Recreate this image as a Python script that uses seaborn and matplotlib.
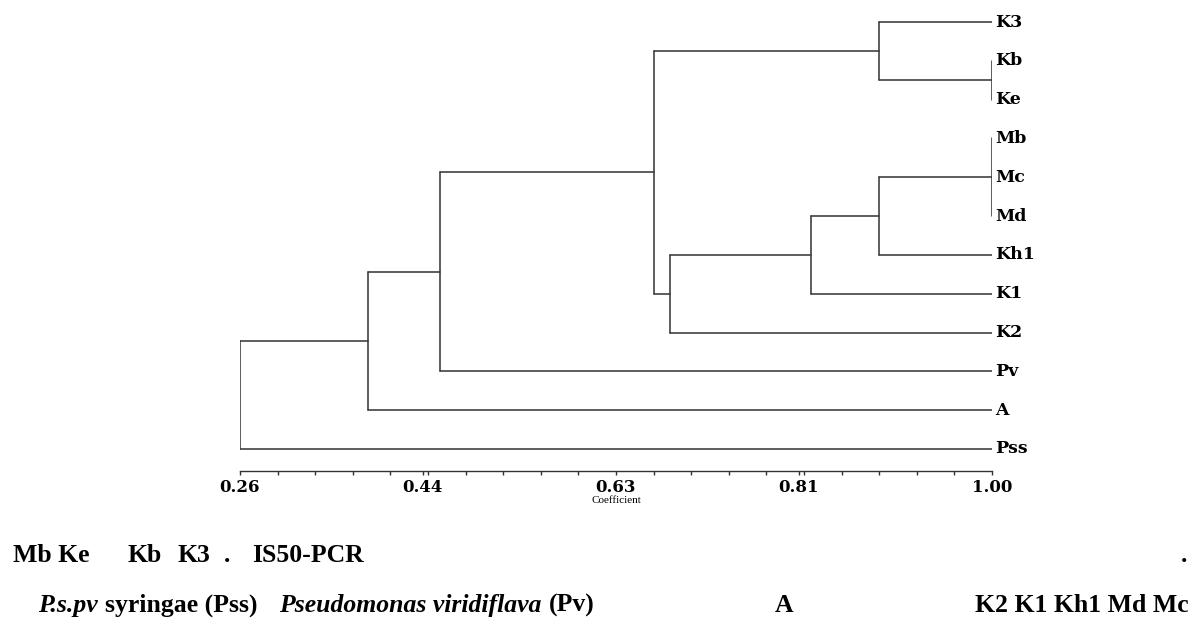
import numpy as np
import pandas as pd
import matplotlib
matplotlib.use('Agg')
import matplotlib.pyplot as plt
import seaborn as sns

# leaves, top to bottom
leaves = ['K3', 'Kb', 'Ke', 'Mb', 'Mc', 'Md', 'Kh1', 'K1', 'K2', 'Pv', 'A', 'Pss']

# clusters (name, members, similarity coefficient at join)
cluster_names = ['KbKe', 'M', 'K3grp', 'MKh1', 'MK1', 'MK2', 'Kgrp', 'Pvgrp', 'Agrp', 'root']
cluster_members = [['Kb', 'Ke'], ['Mb', 'Mc', 'Md'], ['K3', 'KbKe'], ['M', 'Kh1'],
                   ['MKh1', 'K1'], ['MK1', 'K2'], ['K3grp', 'MK2'], ['Kgrp', 'Pv'],
                   ['Pvgrp', 'A'], ['Agrp', 'Pss']]
cluster_sim = [1.00, 1.00, 0.889, 0.889, 0.822, 0.683, 0.667, 0.457, 0.386, 0.26]

tick_values = [0.26, 0.44, 0.63, 0.81, 1.00]
tick_labels = ['0.26', '0.44', '0.63', '0.81', '1.00']

# caption under the chart
caption1 = [('Mb Ke', 13), ('Kb', 127), ('K3', 178), ('.', 224), ('IS50-PCR', 252), ('.', 1181)]
caption2_chain = [('P.s.pv', 'italic', 7), ('syringae (Pss)', 'normal', 22),
                  ('Pseudomonas viridiflava', 'italic', 7), ('(Pv)', 'normal', 0)]
caption2_rest = [('A', 775, 'left'), ('K2 K1 Kh1 Md Mc', 1189, 'right')]

# build dendrogram segments
pos = {name: (1.0, i) for i, name in enumerate(leaves)}
rows = []
seg = 0
for name, kids, sim in zip(cluster_names, cluster_members, cluster_sim):
    ys = [pos[k][1] for k in kids]
    rows.append((seg, sim, min(ys)))
    rows.append((seg, sim, max(ys)))
    seg += 1
    for k in kids:
        rows.append((seg, sim, pos[k][1]))
        rows.append((seg, pos[k][0], pos[k][1]))
        seg += 1
    pos[name] = (sim, (min(ys) + max(ys)) / 2)
df = pd.DataFrame(rows, columns=['seg', 'x', 'y'])

sns.set_theme(style='white')
plt.rcParams['font.family'] = ['DejaVu Serif', 'DejaVu Sans']
plt.rcParams['text.color'] = 'black'
plt.rcParams['xtick.labelcolor'] = 'black'
plt.rcParams['axes.labelcolor'] = 'black'

W, H = 1195, 619
fig = plt.figure(figsize=(W / 100, H / 100), dpi=100)
ax = fig.add_axes([240 / W, 1 - 471 / H, (992 - 240) / W, (471 - 2.6) / H])

sns.lineplot(data=df, x='x', y='y', units='seg', estimator=None, sort=False,
             color='#3a3a3a', lw=1.15, ax=ax, legend=False)

ax.set_xlim(0.26, 1.00)
ax.set_ylim(11 + 22 / 38.8, -0.5)
ax.set_yticks([])
ax.set_ylabel('')

for i, name in enumerate(leaves):
    ax.annotate(name, xy=(1.0, i), xytext=(2, 0), textcoords='offset points',
                va='center', ha='left', fontsize=12.5, fontweight='bold',
                color='black', annotation_clip=False)

ax.set_xticks(tick_values)
ax.set_xticklabels(tick_labels, fontsize=12, fontweight='bold')
ax.set_xticks(np.linspace(0.26, 1.00, 21), minor=True)
ax.tick_params(axis='x', which='both', direction='out', length=3, width=1,
               color='#333333', labelcolor='black', bottom=True, pad=3)
ax.set_xlabel('Coefficient', fontsize=8, family='Liberation Serif', labelpad=0,
              color='black')

sns.despine(ax=ax, left=True)
ax.spines['bottom'].set_color('#333333')
ax.spines['bottom'].set_linewidth(1)

cap = dict(fontsize=18.5, fontweight='bold', family='Liberation Serif',
           va='baseline', color='black')
for text, x in caption1:
    fig.text(x / W, 1 - 562 / H, text, ha='left', **cap)

renderer = fig.canvas.get_renderer()
x = 38
for text, style, gap in caption2_chain:
    t = fig.text(x / W, 1 - 612 / H, text, ha='left', style=style, **cap)
    x = t.get_window_extent(renderer).x1 + gap
for text, x, align in caption2_rest:
    fig.text(x / W, 1 - 612 / H, text, ha=align, **cap)

fig.savefig('out.png', dpi=100)
